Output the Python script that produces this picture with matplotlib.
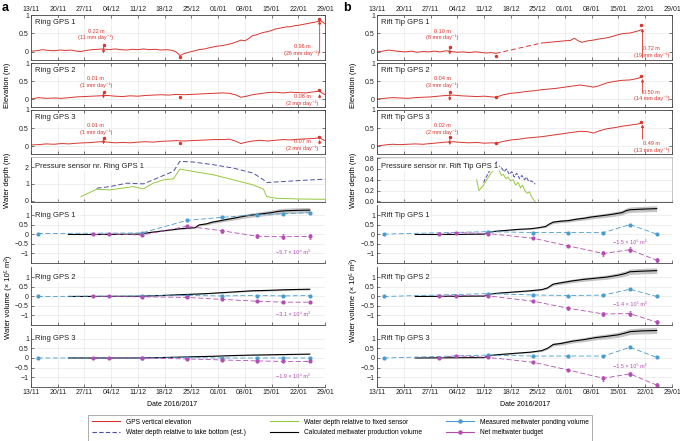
import matplotlib
matplotlib.use('Agg')
import matplotlib.pyplot as plt
from matplotlib.lines import Line2D
import numpy as np

plt.rcParams['font.family'] = ['Liberation Sans', 'DejaVu Sans']
plt.rcParams['axes.unicode_minus'] = True

# ---------------- data ----------------
tick_days = [0, 7, 14, 21, 28, 35, 42, 49, 56, 63, 70, 77]
tick_labels = ['13/11', '20/11', '27/11', '04/12', '11/12', '18/12', '25/12',
               '01/01', '08/01', '15/01', '22/01', '29/01']

# GPS elevation (days since 13/11)
ring1_day = [0, 1.5, 3, 4.5, 6, 7.5, 9, 10.5, 12, 13, 14.5, 16, 17.5, 19, 20.5, 22, 23.5, 25, 26.5, 28,
             29.5, 31, 32.5, 34, 35.5, 37, 38, 39, 40, 41, 42.5, 44, 45.5, 47, 48.5, 50, 51.5, 53, 54, 55,
             56, 57, 58, 59, 60, 61, 62, 63, 64, 65, 66, 67, 68, 69, 70, 71, 72, 73, 74, 75, 76, 77]
ring1_elev = [0.02, 0.03, 0.06, 0.04, 0.03, 0.05, 0.04, 0.05, 0.02, 0.01, 0.04, 0.06, 0.07, 0.08, 0.06, 0.08,
              0.06, 0.05, 0.07, 0.06, 0.08, 0.06, 0.07, 0.05, 0.06, 0.04, 0.0, -0.1, -0.05, -0.02, 0.02, 0.06,
              0.08, 0.12, 0.15, 0.17, 0.2, 0.24, 0.28, 0.32, 0.30, 0.36, 0.44, 0.46, 0.5, 0.53, 0.55, 0.58,
              0.62, 0.64, 0.66, 0.68, 0.68, 0.71, 0.72, 0.74, 0.76, 0.78, 0.80, 0.82, 0.84, 0.76]
ring23_day = [0, 2, 4, 6, 8, 10, 12, 14, 16, 18, 20, 22, 24, 26, 28, 30, 32, 34, 36, 38, 40, 42, 44, 46,
              48, 50, 52, 53.5, 55, 56.5, 58, 60, 62, 64, 66, 68, 70, 72, 74, 75.5, 77]
ring2_elev = [0.0, 0.04, 0.02, 0.03, 0.02, 0.04, 0.06, 0.07, 0.08, 0.09, 0.1, 0.08, 0.07, 0.09, 0.08, 0.1,
              0.11, 0.12, 0.11, 0.13, 0.12, 0.13, 0.14, 0.15, 0.16, 0.17, 0.16, 0.12, 0.05, 0.08, 0.12,
              0.15, 0.18, 0.19, 0.17, 0.19, 0.18, 0.17, 0.2, 0.22, 0.12]
ring3_elev = [0.03, 0.04, 0.06, 0.05, 0.07, 0.06, 0.08, 0.09, 0.1, 0.12, 0.11, 0.09, 0.1, 0.09, 0.11, 0.12,
              0.11, 0.13, 0.14, 0.15, 0.14, 0.15, 0.16, 0.17, 0.18, 0.18, 0.19, 0.14, 0.07, 0.11, 0.14,
              0.16, 0.14, 0.16, 0.18, 0.17, 0.19, 0.2, 0.21, 0.23, 0.15]

rift1_day_a = [0, 1.5, 3, 4.5, 6, 7.5, 9, 10.5, 12, 13.5, 15, 16.5, 18, 19.5, 21, 22.5, 24, 25.5, 27, 28.5, 30, 31]
rift1_elev_a = [0.0, 0.02, 0.05, 0.03, 0.01, 0.0, 0.02, -0.01, 0.01, 0.0, 0.02, 0.0, 0.03, 0.01, -0.01, 0.0,
                -0.02, 0.0, -0.01, -0.03, -0.02, -0.04]
rift1_day_gap = [31, 43]
rift1_elev_gap = [-0.04, 0.24]
rift1_day_b = [43, 45, 47, 49, 50.5, 51.5, 52.5, 53.5, 55, 56.5, 58, 60, 61.5, 63, 64.5, 66, 67.5, 68.5, 69]
rift1_elev_b = [0.24, 0.26, 0.28, 0.3, 0.31, 0.37, 0.3, 0.26, 0.3, 0.32, 0.35, 0.38, 0.42, 0.47, 0.5, 0.51,
                0.55, 0.58, 0.6]
rift23_day = [0, 2, 4, 6, 8, 10, 12, 14, 16, 18, 20, 22, 24, 26, 28, 30, 31, 33, 35, 37, 39, 41, 43, 45, 47,
              49, 51, 53, 55, 56.5, 58, 60, 62, 64, 66, 68, 69]
rift2_elev = [0.0, 0.02, 0.04, 0.03, 0.02, 0.04, 0.05, 0.06, 0.08, 0.1, 0.11, 0.09, 0.08, 0.07, 0.08, 0.06,
              0.05, 0.12, 0.16, 0.18, 0.21, 0.23, 0.26, 0.28, 0.3, 0.33, 0.36, 0.39, 0.36, 0.33, 0.37, 0.45,
              0.49, 0.52, 0.53, 0.57, 0.61]
rift3_elev = [0.0, 0.03, 0.05, 0.04, 0.05, 0.06, 0.05, 0.07, 0.09, 0.11, 0.12, 0.1, 0.09, 0.1, 0.08, 0.09,
              0.08, 0.13, 0.17, 0.19, 0.22, 0.24, 0.26, 0.29, 0.32, 0.35, 0.38, 0.41, 0.4, 0.36, 0.42, 0.48,
              0.51, 0.55, 0.58, 0.61, 0.64]

# Elevation annotations
ring_small_text = ['0.22 m\n(11 mm day⁻¹)', '0.01 m\n(1 mm day⁻¹)', '0.01 m\n(1 mm day⁻¹)']
ring_end_text = ['0.96 m\n(26 mm day⁻¹)', '0.08 m\n(2 mm day⁻¹)', '0.07 m\n(2 mm day⁻¹)']
rift_small_text = ['0.10 m\n(8 mm day⁻¹)', '0.04 m\n(3 mm day⁻¹)', '0.02 m\n(2 mm day⁻¹)']
rift_end_text = ['0.72 m\n(19 mm day⁻¹)', '0.50 m\n(14 mm day⁻¹)', '0.49 m\n(13 mm day⁻¹)']
ring_small_top = [0.18, 0.19, 0.22]
ring_small_bot = [-0.04, 0.02, 0.05]
ring_mid_dot = [-0.13, 0.07, 0.08]
ring_end_dot = [0.9, 0.26, 0.26]
ring_end_from = [-0.03, 0.03, 0.06]
ring_end_to = [0.84, 0.14, 0.17]
ring_end_text_y = [0.05, -0.02, 0.03]
rift_small_top = [0.13, 0.19, 0.24]
rift_small_bot = [-0.07, -0.05, 0.03]
rift_mid_dot = [-0.1, 0.07, 0.08]
rift_end_dot = [0.72, 0.65, 0.67]
rift_end_from = [-0.16, 0.16, 0.19]
rift_end_to = [0.63, 0.56, 0.6]
rift_end_text_y = [0.0, 0.1, -0.02]

# Pressure sensors
ring_fixed_day = [13.1, 17.2, 20.7, 26.8, 29.4, 32.0, 34.7, 37.3, 39.0, 42.5, 47.8, 53.0, 58.2, 60.9, 61.7,
                  64.3, 70.4, 77]
ring_fixed_depth = [0.24, 0.68, 0.64, 0.84, 0.7, 1.04, 1.24, 1.3, 1.88, 1.74, 1.54, 1.24, 0.94, 0.68, 0.24,
                    0.14, 0.1, 0.08]
ring_lake_day = [17.2, 20.7, 25.1, 29.4, 32.0, 35.5, 37.3, 39.0, 42.5, 47.8, 53.0, 58.2, 60.9, 61.7, 66.1,
                 70.4, 77]
ring_lake_depth = [0.74, 0.84, 1.04, 1.0, 1.24, 1.58, 1.74, 2.34, 2.3, 2.14, 1.94, 1.64, 1.24, 1.08, 1.14,
                   1.2, 1.28]
rift_fixed_day = [26.0, 26.6, 27.8, 28.5, 29.5, 30.4, 31.2, 32.0, 32.5, 33.0, 33.6, 34.2, 34.8, 35.5, 36.2,
                  36.8, 37.5, 38.0, 38.6, 39.2, 39.8, 40.4, 41.0, 41.3]
rift_fixed_depth = [0.4, 0.2, 0.3, 0.38, 0.5, 0.58, 0.63, 0.55, 0.48, 0.5, 0.42, 0.45, 0.38, 0.4, 0.3, 0.35,
                    0.25, 0.3, 0.2, 0.15, 0.18, 0.08, 0.02, 0.0]
rift_lake_day = [27.8, 28.5, 29.5, 30.4, 31.2, 31.8, 32.5, 33.2, 33.8, 34.5, 35.2, 35.8, 36.5, 37.2, 37.8,
                 38.5, 39.0, 39.6, 40.3, 41.3]
rift_lake_depth = [0.35, 0.45, 0.58, 0.66, 0.73, 0.65, 0.62, 0.55, 0.6, 0.5, 0.55, 0.45, 0.52, 0.42, 0.48,
                   0.4, 0.45, 0.37, 0.38, 0.32]

# Water volumes (x 10^5 m^3)
pond_day = [1.8, 29, 40.8, 49.9, 59.1, 66, 73]
budget_day = [16.3, 20.5, 29, 40.8, 49.9, 59.1, 66, 73]
ring_pond = [[0.05, 0.08, 0.74, 0.9, 1.04, 1.09, 1.15],
             [0.0, 0.03, 0.05, 0.03, 0.05, 0.03, 0.05],
             [0.0, 0.0, 0.02, 0.0, 0.0, 0.0, 0.0]]
ring_budget = [[0.0, 0.03, -0.03, 0.43, 0.2, -0.09, -0.12, -0.1],
               [0.0, 0.0, -0.02, -0.05, -0.15, -0.25, -0.3, -0.3],
               [0.0, 0.0, 0.0, -0.05, -0.1, -0.15, -0.18, -0.18]]
ring_budget_err = [[0, 0, 0, 0.05, 0.1, 0.12, 0.12, 0.12],
                   [0, 0, 0, 0.02, 0.03, 0.04, 0.04, 0.04],
                   [0, 0, 0, 0.02, 0.02, 0.03, 0.03, 0.03]]
rift_pond = [[0.02, 0.15, 0.1, 0.1, 0.1, 0.52, 0.02],
             [0.0, 0.15, 0.08, 0.05, 0.07, 0.38, 0.0],
             [0.0, 0.15, 0.1, 0.1, 0.1, 0.55, 0.03]]
rift_budget = [[0.0, 0.1, 0.05, -0.2, -0.6, -1.0, -0.8, -1.35],
               [0.0, 0.05, 0.03, -0.25, -0.62, -0.92, -0.9, -1.35],
               [0.0, 0.12, 0.03, -0.22, -0.62, -1.05, -0.82, -1.4]]
rift_budget_err = [[0, 0.03, 0.03, 0.05, 0.07, 0.12, 0.12, 0.12],
                   [0, 0.03, 0.03, 0.05, 0.07, 0.12, 0.12, 0.12],
                   [0, 0.03, 0.03, 0.05, 0.07, 0.12, 0.12, 0.12]]

ring_prod_day = [
    [9.8, 20, 28.5, 31, 33, 35, 37, 39, 41, 43, 44, 46, 47.5, 49, 51, 53, 55, 57, 59, 61, 63, 65, 67, 70, 73],
    [9.8, 28, 34, 40, 46, 50, 54, 58, 62, 66, 70, 73],
    [9.8, 28, 36, 42, 48, 52, 58, 64, 70, 73]]
ring_prod = [
    [0, 0.0, 0.02, 0.1, 0.15, 0.2, 0.25, 0.3, 0.33, 0.36, 0.5, 0.56, 0.65, 0.7, 0.78, 0.85, 0.93, 1.0, 1.05,
     1.1, 1.15, 1.22, 1.25, 1.27, 1.28],
    [0, 0.01, 0.05, 0.1, 0.15, 0.2, 0.25, 0.3, 0.32, 0.35, 0.37, 0.38],
    [0, 0.0, 0.03, 0.06, 0.09, 0.12, 0.15, 0.17, 0.19, 0.2]]
rift_prod_day = [
    [10, 20, 28, 29, 31, 34, 37, 40, 42, 44, 45, 46, 48, 50, 52, 54, 56, 58, 60, 62, 64, 65, 66, 69, 73],
    [10, 28, 29, 32, 36, 40, 43, 44.5, 46, 48, 51, 54, 57, 60, 63, 65, 66, 69, 73],
    [10, 28, 29, 32, 36, 40, 43, 44.5, 46, 48, 51, 54, 57, 60, 63, 65, 66, 69, 73]]
rift_prod = [
    [0, 0.0, 0.02, 0.12, 0.17, 0.22, 0.27, 0.3, 0.35, 0.42, 0.55, 0.65, 0.7, 0.73, 0.8, 0.85, 0.92, 0.97, 1.02,
     1.08, 1.15, 1.25, 1.3, 1.33, 1.36],
    [0, 0.02, 0.12, 0.18, 0.24, 0.3, 0.36, 0.45, 0.65, 0.72, 0.82, 0.9, 0.96, 1.02, 1.12, 1.22, 1.3, 1.33, 1.36],
    [0, 0.02, 0.12, 0.18, 0.24, 0.3, 0.38, 0.5, 0.7, 0.75, 0.87, 0.95, 1.05, 1.12, 1.2, 1.3, 1.36, 1.4, 1.42]]
prod_uncertainty = 0.11

ring_budget_label = ['−5.7 × 10⁴ m³', '−3.1 × 10⁴ m³', '−1.9 × 10⁴ m³']
rift_budget_label = ['−1.5 × 10⁵ m³', '−1.4 × 10⁵ m³', '−1.5 × 10⁵ m³']

# ---------------- style ----------------
RED = '#d8352e'
GREEN = '#97c93d'
DBLUE = '#4f4fa8'
LBLUE = '#4a9ccf'
PURPLE = '#b34db3'
SPINE = '#444444'
FS = 5.0

W, H = 680, 441
fig = plt.figure(figsize=(6.8, 4.41), dpi=100)


def rect(x0, y0, x1, y1):
    return [x0 / W, 1 - y1 / H, (x1 - x0) / W, (y1 - y0) / H]


cols = {'left': (31, 325), 'right': (377, 672)}
rows = {'e1': (15, 60), 'e2': (63, 107), 'e3': (110, 154), 'p': (157, 202),
        'v1': (205, 263), 'v2': (267, 325), 'v3': (328, 387)}


def base(ax):
    ax.set_xlim(0, 77)
    ax.set_xticks(tick_days)
    ax.set_xticklabels([])
    ax.tick_params(direction='in', length=2, width=0.5, labelsize=FS, pad=1.5, colors=SPINE,
                   labelcolor='#222222')
    ax.grid(True, color='#e9e9e9', lw=0.5)
    ax.set_axisbelow(True)
    for s in ax.spines.values():
        s.set_linewidth(0.6)
        s.set_color(SPINE)


def elev_ax(col, row):
    x0, x1 = cols[col]
    y0, y1 = rows[row]
    ax = fig.add_axes(rect(x0, y0, x1, y1))
    base(ax)
    ax.set_ylim(-0.22, 1.0)
    ax.set_yticks([0, 0.5, 1])
    ax.set_yticklabels(['0', '0.5', '1'])
    ax.tick_params(top=True, right=True)
    return ax


def vol_ax(col, row):
    x0, x1 = cols[col]
    y0, y1 = rows[row]
    ax = fig.add_axes(rect(x0, y0, x1, y1))
    base(ax)
    ax.set_ylim(-1.5, 1.55)
    ax.set_yticks([-1, -0.5, 0, 0.5, 1])
    ax.set_yticklabels(['−1', '−0.5', '0', '0.5', '1'])
    ax.spines['top'].set_visible(False)
    ax.spines['right'].set_visible(False)
    return ax


def title(ax, text, y=0.83):
    ax.text(0.015, y, text, transform=ax.transAxes, fontsize=FS + 0.5, va='center', ha='left',
            color='#222222', bbox=dict(facecolor='white', edgecolor='none', pad=0.6))


def arrow(ax, x, y_from, y_to):
    ax.annotate('', xy=(x, y_to), xytext=(x, y_from),
                arrowprops=dict(arrowstyle='-|>', color=RED, lw=0.6, mutation_scale=4,
                                shrinkA=0, shrinkB=0))


def elev_annot(ax, small_x, small_top, small_bot, small_txt, mid_x, mid_y,
               end_x, end_from, end_to, end_dot, end_txt, end_txt_x, end_txt_y):
    ax.plot([small_x], [small_top], 'o', color=RED, ms=1.5)
    arrow(ax, small_x, small_top, small_bot)
    ax.text(small_x - 2, 0.47, small_txt, ha='center', va='center', fontsize=4, color=RED,
            linespacing=1.3)
    ax.plot([mid_x], [mid_y], 'o', color=RED, ms=1.5)
    ax.plot([end_x - 0.3], [end_dot], 'o', color=RED, ms=1.5)
    arrow(ax, end_x, end_from, end_to)
    ax.text(end_txt_x, end_txt_y, end_txt, ha='center', va='center', fontsize=4, color=RED,
            linespacing=1.3)


# ---------- Left column (Ring) ----------
ring_elevs = [(ring1_day, ring1_elev), (ring23_day, ring2_elev), (ring23_day, ring3_elev)]
for i, (d, e) in enumerate(ring_elevs):
    ax = elev_ax('left', 'e%d' % (i + 1))
    ax.plot(d, e, color=RED, lw=0.7)
    title(ax, 'Ring GPS %d' % (i + 1))
    elev_annot(ax, 19, ring_small_top[i], ring_small_bot[i], ring_small_text[i], 39, ring_mid_dot[i],
               75.6, ring_end_from[i], ring_end_to[i], ring_end_dot[i], ring_end_text[i], 71, ring_end_text_y[i])
    if i == 0:
        ax.xaxis.set_ticks_position('both')
        ax.tick_params(labeltop=True, labelbottom=False)
        ax.set_xticklabels(tick_labels)

# ---------- Right column (Rift tip) ----------
for i in range(3):
    ax = elev_ax('right', 'e%d' % (i + 1))
    if i == 0:
        ax.plot(rift1_day_a, rift1_elev_a, color=RED, lw=0.7)
        ax.plot(rift1_day_gap, rift1_elev_gap, color=RED, lw=0.7, ls=(0, (5, 3)))
        ax.plot(rift1_day_b, rift1_elev_b, color=RED, lw=0.7)
        ax.xaxis.set_ticks_position('both')
        ax.tick_params(labeltop=True, labelbottom=False)
        ax.set_xticklabels(tick_labels)
    else:
        ax.plot(rift23_day, [rift2_elev, rift3_elev][i - 1], color=RED, lw=0.7)
    title(ax, 'Rift Tip GPS %d' % (i + 1))
    elev_annot(ax, 19, rift_small_top[i], rift_small_bot[i], rift_small_text[i], 31, rift_mid_dot[i],
               69.3, rift_end_from[i], rift_end_to[i], rift_end_dot[i], rift_end_text[i], 71.7, rift_end_text_y[i])

# ---------- Pressure panels ----------
for col in ['left', 'right']:
    x0, x1 = cols[col]
    y0, y1 = rows['p']
    ax = fig.add_axes(rect(x0, y0, x1, y1))
    base(ax)
    ax.spines['top'].set_color('#bbbbbb')
    ax.spines['right'].set_color('#bbbbbb')
    if col == 'left':
        ax.plot(ring_fixed_day, ring_fixed_depth, color=GREEN, lw=0.7)
        ax.plot(ring_lake_day, ring_lake_depth, color=DBLUE, lw=0.7, ls=(0, (5, 2.5)))
        ax.set_ylim(-0.08, 2.6)
        ax.set_yticks([0, 1, 2])
        title(ax, 'Pressure sensor nr. Ring GPS 1', y=0.78)
    else:
        ax.plot(rift_fixed_day, rift_fixed_depth, color=GREEN, lw=0.7)
        ax.plot(rift_lake_day, rift_lake_depth, color=DBLUE, lw=0.7, ls=(0, (4, 1.5)))
        ax.set_ylim(-0.01, 0.82)
        ax.set_yticks([0, 0.2, 0.4, 0.6, 0.8])
        title(ax, 'Pressure sensor nr. Rift Tip GPS 1', y=0.78)

# ---------- Volume panels ----------
for col, name, ponds, budgets, berrs, pdays, prods, labels, lab_xy in [
        ('left', 'Ring GPS', ring_pond, ring_budget, ring_budget_err, ring_prod_day, ring_prod,
         ring_budget_label, (68.5, -0.95)),
        ('right', 'Rift Tip GPS', rift_pond, rift_budget, rift_budget_err, rift_prod_day, rift_prod,
         rift_budget_label, (66, -0.42))]:
    for i in range(3):
        ax = vol_ax(col, 'v%d' % (i + 1))
        pd_ = np.array(pdays[i])
        pv = np.array(prods[i])
        ax.fill_between(pd_, pv * (1 - prod_uncertainty), pv * (1 + prod_uncertainty),
                        color='#c4c4c4', lw=0)
        ax.plot(pd_, pv, color='black', lw=0.8)
        ax.plot(pond_day, ponds[i], color=LBLUE, lw=0.6, ls=(0, (6, 3)), marker='o', ms=2,
                mec=LBLUE, mfc=LBLUE)
        ax.errorbar(budget_day, budgets[i], yerr=berrs[i], color=PURPLE, lw=0.6, ls=(0, (6, 3)),
                    marker='o', ms=2, capsize=0.8, elinewidth=0.5, capthick=0.5)
        ax.text(lab_xy[0], lab_xy[1], labels[i], fontsize=4, color=PURPLE, ha='center', va='center')
        title(ax, '%s %d' % (name, i + 1), y=0.82)
        if i == 2:
            ax.set_xticklabels(tick_labels)

# ---------- labels ----------
fig.text(8 / W, 1 - 85 / H, 'Elevation (m)', rotation=90, fontsize=FS + 0.5, ha='center', va='center')
fig.text(353 / W, 1 - 85 / H, 'Elevation (m)', rotation=90, fontsize=FS + 0.5, ha='center', va='center')
fig.text(8 / W, 1 - 180 / H, 'Water depth (m)', rotation=90, fontsize=FS + 0.5, ha='center', va='center')
fig.text(353 / W, 1 - 180 / H, 'Water depth (m)', rotation=90, fontsize=FS + 0.5, ha='center', va='center')
fig.text(8 / W, 1 - 297 / H, 'Water volume (× 10⁵ m³)', rotation=90, fontsize=FS + 0.5, ha='center', va='center')
fig.text(353 / W, 1 - 300 / H, 'Water volume (× 10⁵ m³)', rotation=90, fontsize=FS + 0.5, ha='center', va='center')
fig.text(172 / W, 1 - 404 / H, 'Date 2016/2017', fontsize=FS, ha='center', va='center')
fig.text(525 / W, 1 - 404 / H, 'Date 2016/2017', fontsize=FS, ha='center', va='center')
fig.text(2 / W, 1 - 8 / H, 'a', fontsize=9, fontweight='bold', ha='left', va='center')
fig.text(343 / W, 1 - 8 / H, 'b', fontsize=9, fontweight='bold', ha='left', va='center')

# ---------- legend ----------
handles = [
    Line2D([], [], color=RED, lw=0.8),
    Line2D([], [], color=DBLUE, lw=0.8, ls=(0, (4, 2))),
    Line2D([], [], color=GREEN, lw=0.8),
    Line2D([], [], color='black', lw=0.8),
    Line2D([], [], color=LBLUE, lw=0.8, marker='o', ms=2.2),
    Line2D([], [], color=PURPLE, lw=0.8, marker='o', ms=2.2),
]
leg_labels = ['GPS vertical elevation', 'Water depth relative to lake bottom (est.)',
              'Water depth relative to fixed sensor', 'Calculated meltwater production volume',
              'Measured meltwater ponding volume', 'Net meltwater budget']
leg = fig.legend(handles, leg_labels, ncol=3, loc='center', bbox_to_anchor=(340 / W, 1 - 427.5 / H),
                 fontsize=4.8, frameon=True, fancybox=False, handlelength=4.3, handletextpad=0.8,
                 columnspacing=3.6, labelspacing=0.6, borderpad=0.6)
leg.get_frame().set_edgecolor('#999999')
leg.get_frame().set_linewidth(0.7)

fig.savefig('out.png', dpi=100)
